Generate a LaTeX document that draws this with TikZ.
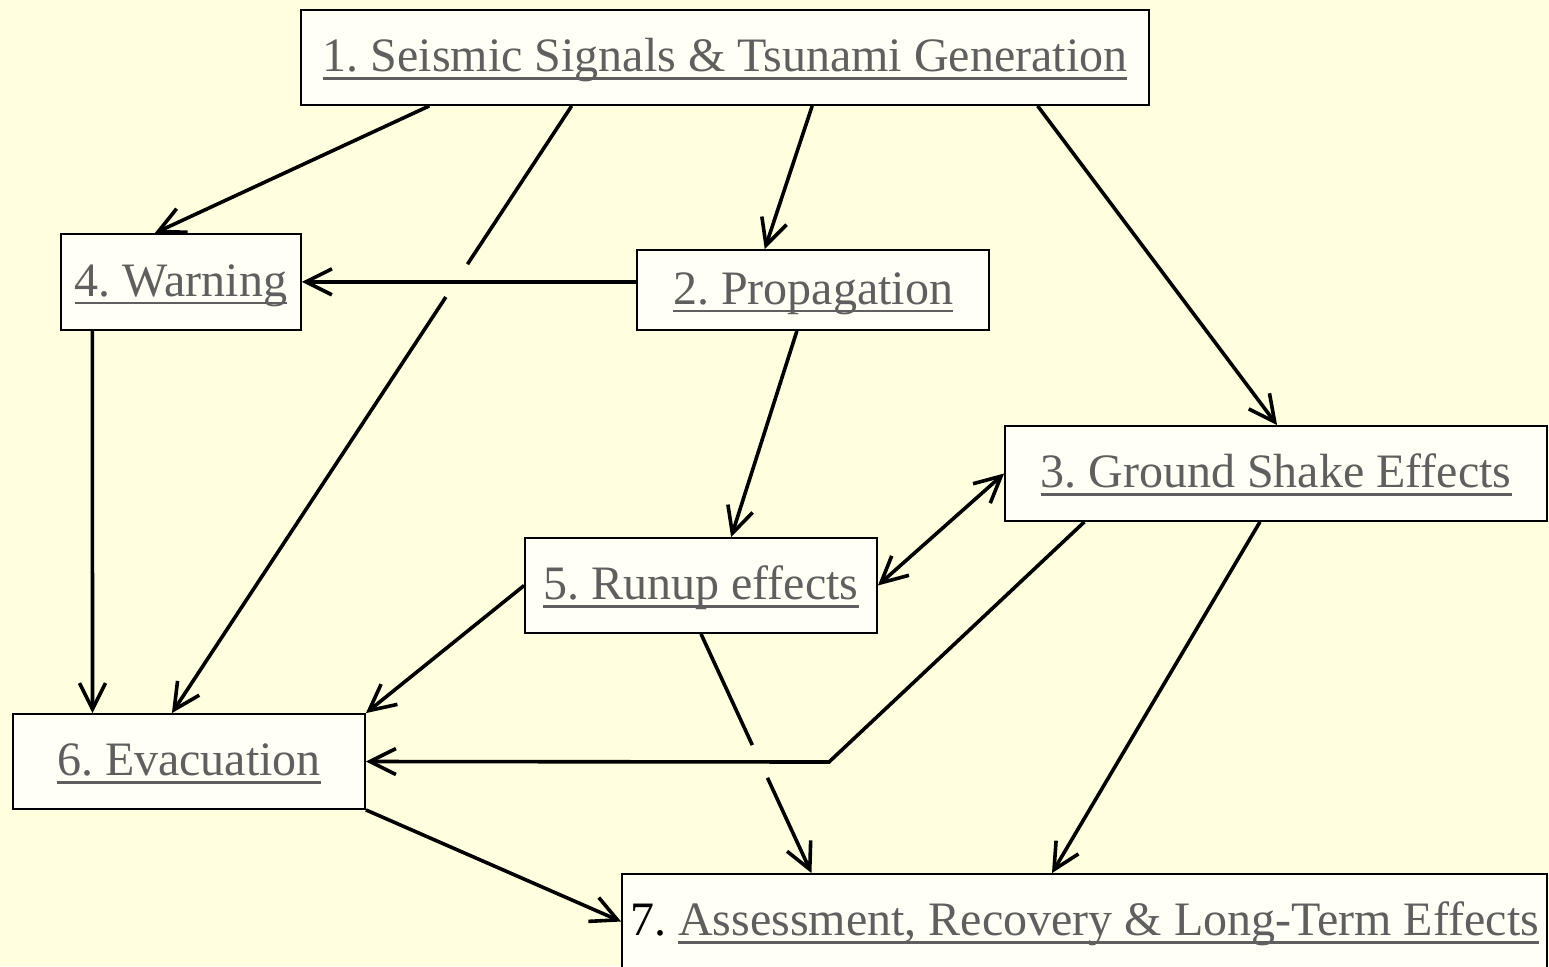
\documentclass[tikz,border=0pt]{standalone}
\usepackage{fontspec}
\setmainfont{Liberation Serif}
\usetikzlibrary{arrows.meta,calc}
\frenchspacing
\definecolor{bgyellow}{HTML}{FFFFE0}
\definecolor{boxfill}{HTML}{FFFFF6}
\definecolor{txtgray}{HTML}{5F5F5F}
\newcommand\myul[1]{\setbox0\hbox{#1}\rlap{\color{txtgray}\rule[-4.1pt]{\wd0}{1.2pt}}\box0}
\tikzset{
  boxnode/.style={draw=black, line width=0.9pt, fill=boxfill, inner sep=0pt,
    text height=14pt, text depth=0pt, font=\fontsize{24pt}{28pt}\selectfont, text=txtgray},
  conn/.style={line width=1.8pt, black},
  arr/.style={conn, -{Straight Barb[length=13pt,width=13pt,line width=1.8pt]}},
  darr/.style={conn, {Straight Barb[length=13pt,width=13pt,line width=1.8pt]}-{Straight Barb[length=13pt,width=13pt,line width=1.8pt]}}
}
\begin{document}
\begin{tikzpicture}[x=0.5pt,y=-0.5pt]
\useasboundingbox (0,0) rectangle (1549,966);
\clip (0,0) rectangle (1549,966);
\fill[bgyellow] (0,0) rectangle (1549,966);
% nodes
\node[boxnode, minimum width=424pt, minimum height=47.5pt] (n1) at (725,57.5) {\myul{1. Seismic Signals \& Tsunami Generation}};
\node[boxnode, minimum width=120pt, minimum height=48pt] (n4) at (181,282) {\myul{4. Warning}};
\node[boxnode, minimum width=176pt, minimum height=40pt] (n2) at (813,290) {\myul{2. Propagation}};
\node[boxnode, minimum width=271pt, minimum height=47.5pt] (n3) at (1276,473.5) {\myul{3. Ground Shake Effects}};
\node[boxnode, minimum width=176pt, minimum height=47.5pt] (n5) at (701,585.5) {\myul{5. Runup effects}};
\node[boxnode, minimum width=176pt, minimum height=47.5pt] (n6) at (189,761.5) {\myul{6. Evacuation}};
\node[boxnode, minimum width=462.5pt, minimum height=47.5pt] (n7) at (1084.5,921.5) {\textcolor{black}{7.} \myul{Assessment, Recovery \& Long-Term Effects}};
% anchor points
\coordinate (s14) at ($(n1.south west)!0.1521!(n1.south east)$);
\coordinate (s16) at ($(n1.south west)!0.3196!(n1.south east)$);
\coordinate (s12) at ($(n1.south west)!0.6026!(n1.south east)$);
\coordinate (s13) at ($(n1.south west)!0.8679!(n1.south east)$);
\coordinate (e14) at ($(n4.north west)!0.3917!(n4.north east)$);
\coordinate (s46) at ($(n4.south west)!0.1333!(n4.south east)$);
\coordinate (e12) at ($(n2.north west)!0.3636!(n2.north east)$);
\coordinate (s24) at ($(n2.north west)!0.4!(n2.south west)$);
\coordinate (s25) at ($(n2.south west)!0.4545!(n2.south east)$);
\coordinate (e13) at ($(n3.north west)!0.502!(n3.north east)$);
\coordinate (s36) at ($(n3.south west)!0.1476!(n3.south east)$);
\coordinate (s37) at ($(n3.south west)!0.4705!(n3.south east)$);
\coordinate (e25) at ($(n5.north west)!0.5852!(n5.north east)$);
\coordinate (e46) at ($(n6.north west)!0.2273!(n6.north east)$);
\coordinate (e16) at ($(n6.north west)!0.4517!(n6.north east)$);
\coordinate (e57) at ($(n7.north west)!0.2054!(n7.north east)$);
\coordinate (e37) at ($(n7.north west)!0.4649!(n7.north east)$);
\coordinate (b36) at (829,762);
% gaps
\coordinate (g16a) at ($(s16)!0.2607!(e16)$);
\coordinate (g16b) at ($(s16)!0.3148!(e16)$);
\coordinate (g57a) at ($(n5.south)!0.4647!(e57)$);
\coordinate (g57b) at ($(n5.south)!0.6017!(e57)$);
% connectors
\draw[arr] (s14) -- (e14);
\draw[conn] (s16) -- (g16a);
\draw[arr] (g16b) -- (e16);
\draw[arr] (s12) -- (e12);
\draw[arr] (s13) -- (e13);
\draw[arr] (s24) -- (n4.east |- s24);
\draw[arr] (s25) -- (e25);
\draw[arr] (s46) -- (e46);
\draw[darr] (n5.east) -- (n3.west);
\draw[arr] (s36) -- (b36) -- (n6.east);
\draw[arr] (s37) -- (e37);
\draw[arr] (n5.west) -- (n6.north east);
\draw[conn] (n5.south) -- (g57a);
\draw[arr] (g57b) -- (e57);
\draw[arr] (n6.south east) -- (n7.west);
\end{tikzpicture}
\end{document}
